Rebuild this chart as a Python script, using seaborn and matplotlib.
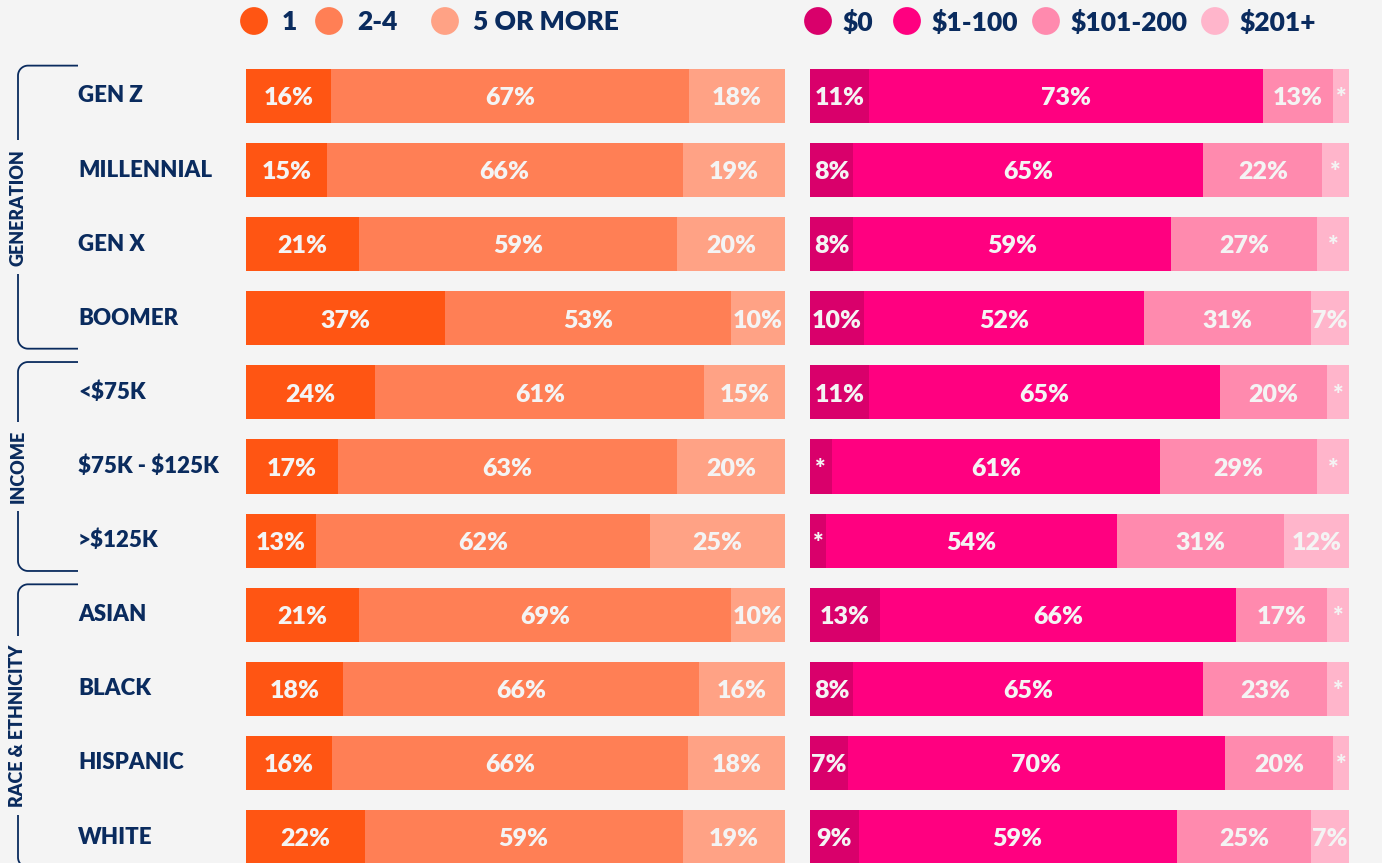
import numpy as np
import pandas as pd
import seaborn as sns
import matplotlib.pyplot as plt

# data
categories = ['GEN Z', 'MILLENNIAL', 'GEN X', 'BOOMER', '<$75K', '$75K - $125K', '>$125K',
              'ASIAN', 'BLACK', 'HISPANIC', 'WHITE']
groups = ['GENERATION', 'INCOME', 'RACE & ETHNICITY']
group_rows = [(0, 3), (4, 6), (7, 10)]

count_labels = ['1', '2-4', '5 OR MORE']
count_1 = [16, 15, 21, 37, 24, 17, 13, 21, 18, 16, 22]
count_2_4 = [67, 66, 59, 53, 61, 63, 62, 69, 66, 66, 59]
count_5_plus = [18, 19, 20, 10, 15, 20, 25, 10, 16, 18, 19]

spend_labels = ['$0', '$1-100', '$101-200', '$201+']
spend_0 = [11, 8, 8, 10, 11, 4, 3, 13, 8, 7, 9]
spend_1_100 = [73, 65, 59, 52, 65, 61, 54, 66, 65, 70, 59]
spend_101_200 = [13, 22, 27, 31, 20, 29, 31, 17, 23, 20, 25]
spend_201_plus = [3, 5, 6, 7, 4, 6, 12, 4, 4, 3, 7]

count_colors = ['#FF5513', '#FF7F55', '#FFA285']
spend_colors = ['#D9006B', '#FF0080', '#FF8AAE', '#FFB5CB']
navy = '#0A2B5E'
bg = '#F4F4F4'

sns.set_theme(style='white')
plt.rcParams['font.family'] = ['Lato', 'DejaVu Sans']
plt.rcParams['text.parse_math'] = False

W, H = 1382, 863
fig = plt.figure(figsize=(W / 100, H / 100), dpi=100, facecolor=bg)

# layout in pixels
row0, step = 96, 74.1
top_px = 50
ylim = ((H - row0) / step, (top_px - row0) / step)


def stacked(left_px, names, series, colors, star_below):
    ax = fig.add_axes([left_px / W, 0, 539 / W, (H - top_px) / H])
    df = pd.DataFrame(dict(zip(names, series)), index=categories)
    share = df.div(df.sum(axis=1), axis=0) * 100
    cum = share.cumsum(axis=1)
    for col, c in reversed(list(zip(names, colors))):
        sns.barplot(x=cum[col].values, y=categories, color=c, orient='h',
                    width=0.73, saturation=1, errorbar=None, linewidth=0, ax=ax)
    for i in range(len(categories)):
        for col in names:
            v = df.loc[categories[i], col]
            mid = cum.loc[categories[i], col] - share.loc[categories[i], col] / 2
            lab = '*' if v < star_below else f'{v}%'
            ax.text(mid, i + 0.03, lab, ha='center', va='center', color=bg,
                    fontsize=18, fontweight='heavy')
    ax.set_xlim(0, 100)
    ax.set_ylim(*ylim)
    ax.axis('off')
    return ax


stacked(246, count_labels, [count_1, count_2_4, count_5_plus], count_colors, 0)
stacked(810, spend_labels, [spend_0, spend_1_100, spend_101_200, spend_201_plus], spend_colors, 7)

# overlay in pixel coordinates for labels, brackets and legends
ov = fig.add_axes([0, 0, 1, 1])
ov.set_xlim(0, W)
ov.set_ylim(H, 0)
ov.axis('off')
ov.patch.set_alpha(0)

for i, cat in enumerate(categories):
    ov.text(78, row0 + i * step, cat, ha='left', va='center', color=navy,
            fontsize=16, fontweight='heavy')

x_line, x_end, r = 18, 78, 10
for name, (a, b) in zip(groups, group_rows):
    y0 = row0 + (a - 0.41) * step
    y1 = min(row0 + (b + 0.41) * step, H + 20)
    t = np.linspace(0, np.pi / 2, 20)
    xs = np.concatenate([[x_end], x_line + r - r * np.sin(t),
                         x_line + r - r * np.cos(t), [x_end]])
    ys = np.concatenate([[y0], y0 + r - r * np.cos(t),
                         y1 - r + r * np.sin(t), [y1]])
    ov.plot(xs, ys, color=navy, lw=1.3, solid_capstyle='butt')
    ov.text(x_line, row0 + (a + b) / 2 * step, name, rotation=90, ha='center', va='center',
            color=navy, fontsize=13, fontweight='heavy',
            bbox=dict(facecolor=bg, edgecolor='none', pad=6))

# legends
leg_y = 21
count_pos = [(254, 282), (329, 357), (445, 473)]
spend_pos = [(818, 843), (907, 932), (1046, 1071), (1215, 1240)]
for labels, colors, pos in [(count_labels, count_colors, count_pos),
                            (spend_labels, spend_colors, spend_pos)]:
    for lab, c, (cx, tx) in zip(labels, colors, pos):
        ov.scatter([cx], [leg_y], s=400, color=c, edgecolor='none')
        ov.text(tx, leg_y + 1, lab, ha='left', va='center', color=navy,
                fontsize=19, fontweight='heavy')

fig.savefig('out.png', dpi=100, facecolor=bg)
